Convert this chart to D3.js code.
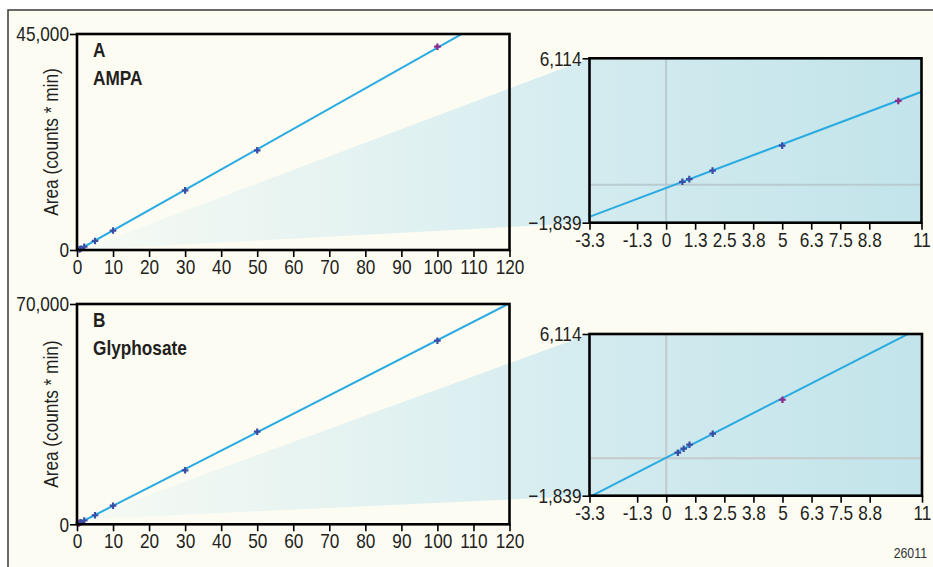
<!DOCTYPE html>
<html><head><meta charset="utf-8">
<script src="https://cdn.jsdelivr.net/npm/d3@7"></script>
<style>
html,body{margin:0;padding:0;background:#fff;}
svg{display:block;}
</style></head>
<body>
<svg id="chart" width="933" height="567"></svg>
<script>
// ---------- DATA ----------
const xTicksMain = [0,10,20,30,40,50,60,70,80,90,100,110,120];
const insetXTicks = [-3.3,-1.25,0,1.25,2.5,3.75,5,6.25,7.5,8.75,11];
const insetXLabels = ["-3.3","-1.3","0","1.3","2.5","3.8","5","6.3","7.5","8.8","11"];
const insetYDomain = [-1839, 6114];

// Panel A: AMPA
const ampaConc = [0.7, 1, 2, 5, 10, 30, 50, 100];
const ampaArea = [140, 270, 680, 1890, 4050, 12430, 20770, 42350];
const ampaMainColor = ["b","b","b","b","b","b","b","p"];
const ampaInsetColor = ["b","b","b","b","p"];
const ampaFit = [423, -160];   // slope, intercept
const ampaYMax = 45000;

// Panel B: Glyphosate
const glyConc = [0.5, 0.75, 1, 2, 5, 10, 30, 50, 100];
const glyArea = [276, 472, 669, 1210, 2880, 5910, 17160, 29420, 58340];
const glyMainColor = ["p","p","b","b","b","b","b","b","b"];
const glyInsetColor = ["b","b","b","b","p"];
const glyFit = [585, 30];
const glyYMax = 70000;

const insetCount = 5;

// ---------- STYLE ----------
const FONT = "'Liberation Sans Narrow','Arial Narrow','Liberation Sans',Arial,sans-serif";
const SQUEEZE = 0.82;
const BG = "#fcfcf3";
const LINE = "#29abe2";
const PT = {b:"#3a4ea6", p:"#8c2a8c"};
const TXT = "#231f20";

function condense(sel){
  sel.each(function(){
    const w = this.getComputedTextLength();
    if (w > 0){
      this.setAttribute("textLength", (w*SQUEEZE).toFixed(2));
      this.setAttribute("lengthAdjust","spacingAndGlyphs");
    }
  });
}

const svg = d3.select("#chart");
svg.append("rect").attr("width",933).attr("height",567).attr("fill","#ffffff");
svg.append("rect").attr("x",8).attr("y",10).attr("width",925).attr("height",557).attr("fill",BG);
svg.append("path").attr("d","M8,567 V10 H933").attr("fill","none").attr("stroke","#3a3a3a").attr("stroke-width",1.5);

const defs = svg.append("defs");

const panels = [
  {id:"A", title:"A", name:"AMPA", conc:ampaConc, area:ampaArea, mainColor:ampaMainColor, insetColor:ampaInsetColor,
   fit:ampaFit, yMax:ampaYMax, main:{x0:77,x1:509.5,y0:250,y1:34}, inset:{x0:589.5,x1:921.5,y0:222.7,y1:58.3},
   apex:[1,0], grid:"#b7cbd0"},
  {id:"B", title:"B", name:"Glyphosate", conc:glyConc, area:glyArea, mainColor:glyMainColor, insetColor:glyInsetColor,
   fit:glyFit, yMax:glyYMax, main:{x0:77,x1:509.5,y0:524.3,y1:304}, inset:{x0:589.5,x1:922,y0:495.7,y1:334},
   apex:[1,1500], grid:"#c6c9c9"}
];

function plus(g, data, xs, ys, colors){
  const s = 3.3;
  g.selectAll("path.pt").data(data).join("path").attr("class","pt")
    .attr("d", d => { const cx = xs(d[0]), cy = ys(d[1]);
      return `M${cx-s},${cy}H${cx+s}M${cx},${cy-s}V${cy+s}`; })
    .attr("stroke",(d,i)=>PT[colors[i]]).attr("stroke-width",2.2).attr("fill","none");
}

panels.forEach(p => {
  const m = p.main, n = p.inset;
  const x = d3.scaleLinear().domain([0,120]).range([m.x0,m.x1]);
  const y = d3.scaleLinear().domain([0,p.yMax]).range([m.y0,m.y1]);
  const xi = d3.scaleLinear().domain([insetXTicks[0], insetXTicks[insetXTicks.length-1]]).range([n.x0,n.x1]);
  const yi = d3.scaleLinear().domain(insetYDomain).range([n.y0,n.y1]);
  const pts = p.conc.map((c,i)=>[c,p.area[i]]);

  // wedge gradient
  const apx = x(p.apex[0]), apy = y(p.apex[1]);
  const wg = defs.append("linearGradient").attr("id","wedge"+p.id).attr("gradientUnits","userSpaceOnUse")
    .attr("x1",apx).attr("x2",n.x0).attr("y1",0).attr("y2",0);
  wg.append("stop").attr("offset","0%").attr("stop-color","#f7faf3");
  wg.append("stop").attr("offset","100%").attr("stop-color","#d4ecf0");
  const ig = defs.append("linearGradient").attr("id","inset"+p.id).attr("x1","0%").attr("x2","100%");
  ig.append("stop").attr("offset","0%").attr("stop-color","#d3ebef");
  ig.append("stop").attr("offset","100%").attr("stop-color","#c2e4ea");

  const clipM = defs.append("clipPath").attr("id","clipM"+p.id);
  clipM.append("rect").attr("x",m.x0).attr("y",m.y1).attr("width",m.x1-m.x0).attr("height",m.y0-m.y1);
  const clipI = defs.append("clipPath").attr("id","clipI"+p.id);
  clipI.append("rect").attr("x",n.x0).attr("y",n.y1).attr("width",n.x1-n.x0).attr("height",n.y0-n.y1);

  svg.append("path").attr("d",`M${apx},${apy}L${n.x0},${n.y1}L${n.x0},${n.y0}Z`).attr("fill",`url(#wedge${p.id})`);

  // main fit line
  const fitLine = (xsc, ysc, dom) => d3.line()(dom.map(v => [xsc(v), ysc(p.fit[0]*v + p.fit[1])]));
  svg.append("path").attr("d", fitLine(x,y,[-5,130])).attr("clip-path",`url(#clipM${p.id})`)
    .attr("stroke",LINE).attr("stroke-width",2).attr("fill","none");
  plus(svg.append("g"), pts, x, y, p.mainColor);

  // main frame
  svg.append("rect").attr("x",m.x0).attr("y",m.y1).attr("width",m.x1-m.x0).attr("height",m.y0-m.y1)
    .attr("fill","none").attr("stroke","#000").attr("stroke-width",2.6);

  const styleAxis = g => {
    g.select(".domain").remove();
    g.selectAll("line").attr("stroke","#000").attr("stroke-width",1.6);
    g.selectAll("text").attr("font-family",FONT).attr("font-size",21).attr("fill",TXT).call(condense);
  };
  svg.append("g").attr("transform",`translate(0,${m.y0})`)
    .call(d3.axisBottom(x).tickValues(xTicksMain).tickSize(7).tickPadding(2).tickFormat(d3.format("d")))
    .call(styleAxis);
  svg.append("g").attr("transform",`translate(${m.x0},0)`)
    .call(d3.axisLeft(y).tickValues([0,p.yMax]).tickSize(7).tickPadding(1).tickFormat(d3.format(",")))
    .call(styleAxis);

  svg.append("text").attr("transform",`translate(58,${(m.y0+m.y1)/2}) rotate(-90)`)
    .attr("text-anchor","middle").attr("font-family",FONT).attr("font-size",21).attr("fill",TXT)
    .text("Area (counts * min)").call(condense);
  svg.append("text").attr("x",93).attr("y",m.y1+23).attr("font-family",FONT).attr("font-weight","bold")
    .attr("font-size",21).attr("fill",TXT).text(p.title).call(condense);
  svg.append("text").attr("x",93).attr("y",m.y1+51).attr("font-family",FONT).attr("font-weight","bold")
    .attr("font-size",21).attr("fill",TXT).text(p.name).call(condense);

  // inset
  svg.append("rect").attr("x",n.x0).attr("y",n.y1).attr("width",n.x1-n.x0).attr("height",n.y0-n.y1)
    .attr("fill",`url(#inset${p.id})`);
  const gi = svg.append("g").attr("clip-path",`url(#clipI${p.id})`);
  gi.append("line").attr("x1",xi(0)).attr("x2",xi(0)).attr("y1",n.y1).attr("y2",n.y0)
    .attr("stroke",p.grid).attr("stroke-width",2);
  gi.append("line").attr("x1",n.x0).attr("x2",n.x1).attr("y1",yi(0)).attr("y2",yi(0))
    .attr("stroke",p.grid).attr("stroke-width",2);
  gi.append("path").attr("d", fitLine(xi,yi,[-4,12])).attr("stroke",LINE).attr("stroke-width",2).attr("fill","none");
  plus(gi.append("g"), pts.slice(0,insetCount), xi, yi, p.insetColor);
  svg.append("rect").attr("x",n.x0).attr("y",n.y1).attr("width",n.x1-n.x0).attr("height",n.y0-n.y1)
    .attr("fill","none").attr("stroke","#000").attr("stroke-width",2.6);
  svg.append("g").attr("transform",`translate(0,${n.y0})`)
    .call(d3.axisBottom(xi).tickValues(insetXTicks).tickSize(7).tickPadding(2).tickFormat((d,i)=>insetXLabels[i]))
    .call(styleAxis);
  svg.append("g").attr("transform",`translate(${n.x0},0)`)
    .call(d3.axisLeft(yi).tickValues(insetYDomain).tickSize(7).tickPadding(1).tickFormat(d3.format(",")))
    .call(styleAxis);
});

svg.append("text").attr("x",927).attr("y",558).attr("text-anchor","end").attr("font-family",FONT)
  .attr("font-size",15).attr("fill","#333").text("26011").call(condense);
</script>
</body></html>
